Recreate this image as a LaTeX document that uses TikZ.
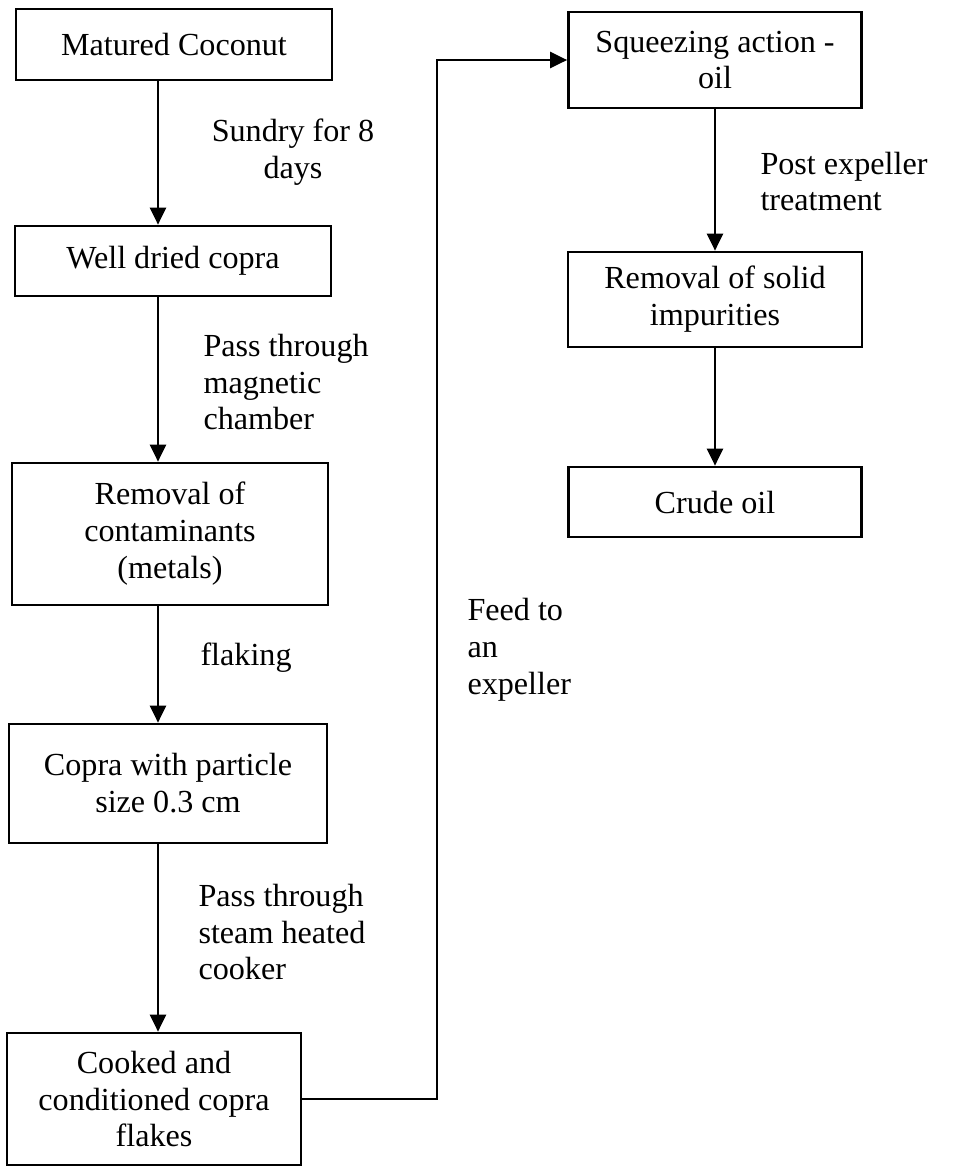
\documentclass[tikz,border=0pt]{standalone}
\usepackage{fontspec}
\setmainfont{Liberation Serif}
\usetikzlibrary{arrows.meta}
\newlength\pxu
\setlength\pxu{0.01312cm}

\begin{document}
\begin{tikzpicture}[x=0.01312cm, y=-0.01312cm,
    box/.style = {draw, line width=1pt, align=center, inner sep=0pt,
      font=\fontsize{12}{13.8}\selectfont},
    flow/.style = {line width=1pt, -{Triangle[width=6pt,length=6.4pt]}},
    note/.style = {align=left, anchor=west, inner sep=0pt,
      font=\fontsize{12}{13.8}\selectfont}]

    \useasboundingbox[fill=white] (0,0) rectangle (968,1175);

    % left column
    \node[box, minimum width=316*\pxu, minimum height=71*\pxu] (coconut) at (174,44.5) {Matured Coconut};
    \node[box, minimum width=316*\pxu, minimum height=70*\pxu] (copra) at (173,261) {Well dried copra};
    \node[box, minimum width=316*\pxu, minimum height=142*\pxu] (metals) at (170,534) {Removal of\\contaminants\\(metals)};
    \node[box, minimum width=318*\pxu, minimum height=119*\pxu] (particle) at (168,783.5) {Copra with particle\\size 0.3 cm};
    \node[box, minimum width=294*\pxu, minimum height=132*\pxu] (flakes) at (154,1099) {Cooked and\\conditioned copra\\flakes};

    % right column
    \node[box, minimum width=293*\pxu, minimum height=96*\pxu] (squeeze) at (715,60) {Squeezing action -\\oil};
    \node[box, minimum width=294*\pxu, minimum height=95*\pxu] (solid) at (715,299.5) {Removal of solid\\impurities};
    \node[box, minimum width=293*\pxu, minimum height=70*\pxu] (crude) at (715,502) {Crude oil};

    \coordinate (lane) at (158,0);
    \coordinate (feed) at (437,0);

    \draw[flow] (coconut.south -| lane) -- (copra.north -| lane);
    \draw[flow] (copra.south -| lane) -- (metals.north -| lane);
    \draw[flow] (metals.south -| lane) -- (particle.north -| lane);
    \draw[flow] (particle.south -| lane) -- (flakes.north -| lane);
    \draw[flow] (flakes.east) -- (flakes.east -| feed) |- (squeeze.west);
    \draw[flow] (squeeze) -- (solid);
    \draw[flow] (solid) -- (crude);

    % step labels
    \node[note, align=center, anchor=center] (sundry) at (293,152) {Sundry for 8\\days};
    \node[note] (magnet) at (203,382) {Pass through\\magnetic\\chamber};
    \node[note] (flaking) at (200,658) {flaking};
    \node[note] (steam) at (198,932) {Pass through\\steam heated\\cooker};
    \node[note] (expel) at (467,650) {Feed to\\an\\expeller};
    \node[note] (post) at (760,181.5) {Post expeller\\treatment};

\end{tikzpicture}
\end{document}
